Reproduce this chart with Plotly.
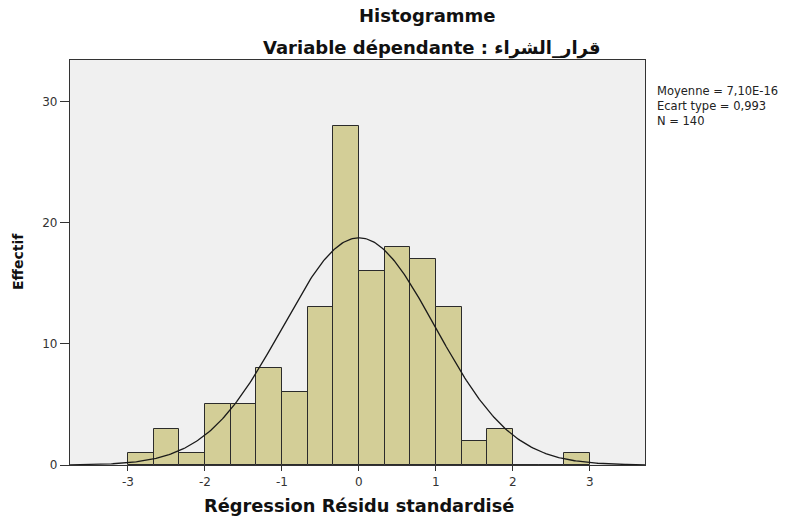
import numpy as np
import plotly.graph_objects as go

# Histogram data (bin centers, bin width 1/3)
bin_centers = [-2.8333, -2.5, -2.1667, -1.8333, -1.5, -1.1667, -0.8333, -0.5, -0.1667,
               0.1667, 0.5, 0.8333, 1.1667, 1.5, 1.8333, 2.1667, 2.5, 2.8333]
counts = [1, 3, 1, 5, 5, 8, 6, 13, 28, 16, 18, 17, 13, 2, 3, 0, 0, 1]
bin_width = 1 / 3

mean = 7.10e-16
std = 0.993
n = 140

x_ticks = [-3, -2, -1, 0, 1, 2, 3]
y_ticks = [0, 10, 20, 30]
stats_lines = ["Moyenne = 7,10E-16", "Ecart type = 0,993", "N = 140"]

xs = np.linspace(-3.76, 3.72, 400)
ys = n * bin_width * np.exp(-0.5 * ((xs - mean) / std) ** 2) / (std * np.sqrt(2 * np.pi))

# body margin is removed via post_script, so figure coords == screen coords
W, H = 795, 517
L_, R_, T_, B_ = 70, 645, 60, 465  # plot area in screen pixels
ml, mr, mt, mb = L_, W - R_, T_, H - B_
pw, ph = R_ - L_, B_ - T_

def fx(sx):
    return (sx - L_) / pw

def fy(sy):
    return (B_ - sy) / ph

fig = go.Figure()
fig.add_trace(go.Bar(
    x=bin_centers, y=counts, width=bin_width,
    marker=dict(color="#d3ce97", line=dict(color="#2b2b2b", width=1)),
    hoverinfo="x+y", showlegend=False,
))
fig.add_trace(go.Scatter(
    x=xs, y=ys, mode="lines", line=dict(color="#1a1a1a", width=1.3),
    showlegend=False, hoverinfo="skip",
))

FF = "DejaVu Sans, Verdana, sans-serif"

fig.update_layout(
    width=W, height=H,
    margin=dict(l=ml, r=mr, t=mt, b=mb, autoexpand=False),
    paper_bgcolor="white",
    plot_bgcolor="#f0f0f0",
    font=dict(family=FF, color="#333333", size=12),
    bargap=0,
    xaxis=dict(
        range=[-3.753, 3.716], tickvals=x_ticks, ticktext=[str(v) for v in x_ticks],
        showgrid=False, zeroline=False, showline=True, linecolor="#333333", linewidth=1.3,
        mirror=True, ticks="outside", ticklen=5, tickcolor="#333333",
        tickfont=dict(family=FF, size=12, color="#333333"),
    ),
    yaxis=dict(
        range=[0, 33.42], tickvals=y_ticks, ticktext=[str(v) for v in y_ticks],
        showgrid=False, zeroline=False, showline=True, linecolor="#333333", linewidth=1.3,
        mirror=True, ticks="outside", ticklen=9, tickcolor="#333333",
        tickfont=dict(family=FF, size=12, color="#333333"),
    ),
)

anns = [
    dict(text="<b>Histogramme</b>", x=fx(427), y=fy(16), xanchor="center", yanchor="middle",
         font=dict(family=FF, size=18, color="#111111")),
    dict(text="<b>Variable dépendante : قرار_الشراء</b>", x=fx(432), y=fy(48),
         xanchor="center", yanchor="middle", font=dict(family=FF, size=18, color="#111111")),
    dict(text="<b>Régression Résidu standardisé</b>", x=fx(359), y=fy(505),
         xanchor="center", yanchor="middle", font=dict(family=FF, size=17.8, color="#111111")),
    dict(text="<b>Effectif</b>", x=fx(18), y=fy(262), xanchor="center", yanchor="middle",
         textangle=-90, font=dict(family=FF, size=14, color="#111111")),
    dict(text="<br>".join(stats_lines), x=fx(655), y=fy(82), xanchor="left", yanchor="top",
         align="left", font=dict(family=FF, size=11.5, color="#222222")),
]
for a in anns:
    a.update(xref="paper", yref="paper", showarrow=False)
fig.update_layout(annotations=anns)

fig.write_html(
    "out.html",
    config={"displayModeBar": False},
    post_script="document.body.style.margin='0';document.body.style.overflow='hidden';",
)
